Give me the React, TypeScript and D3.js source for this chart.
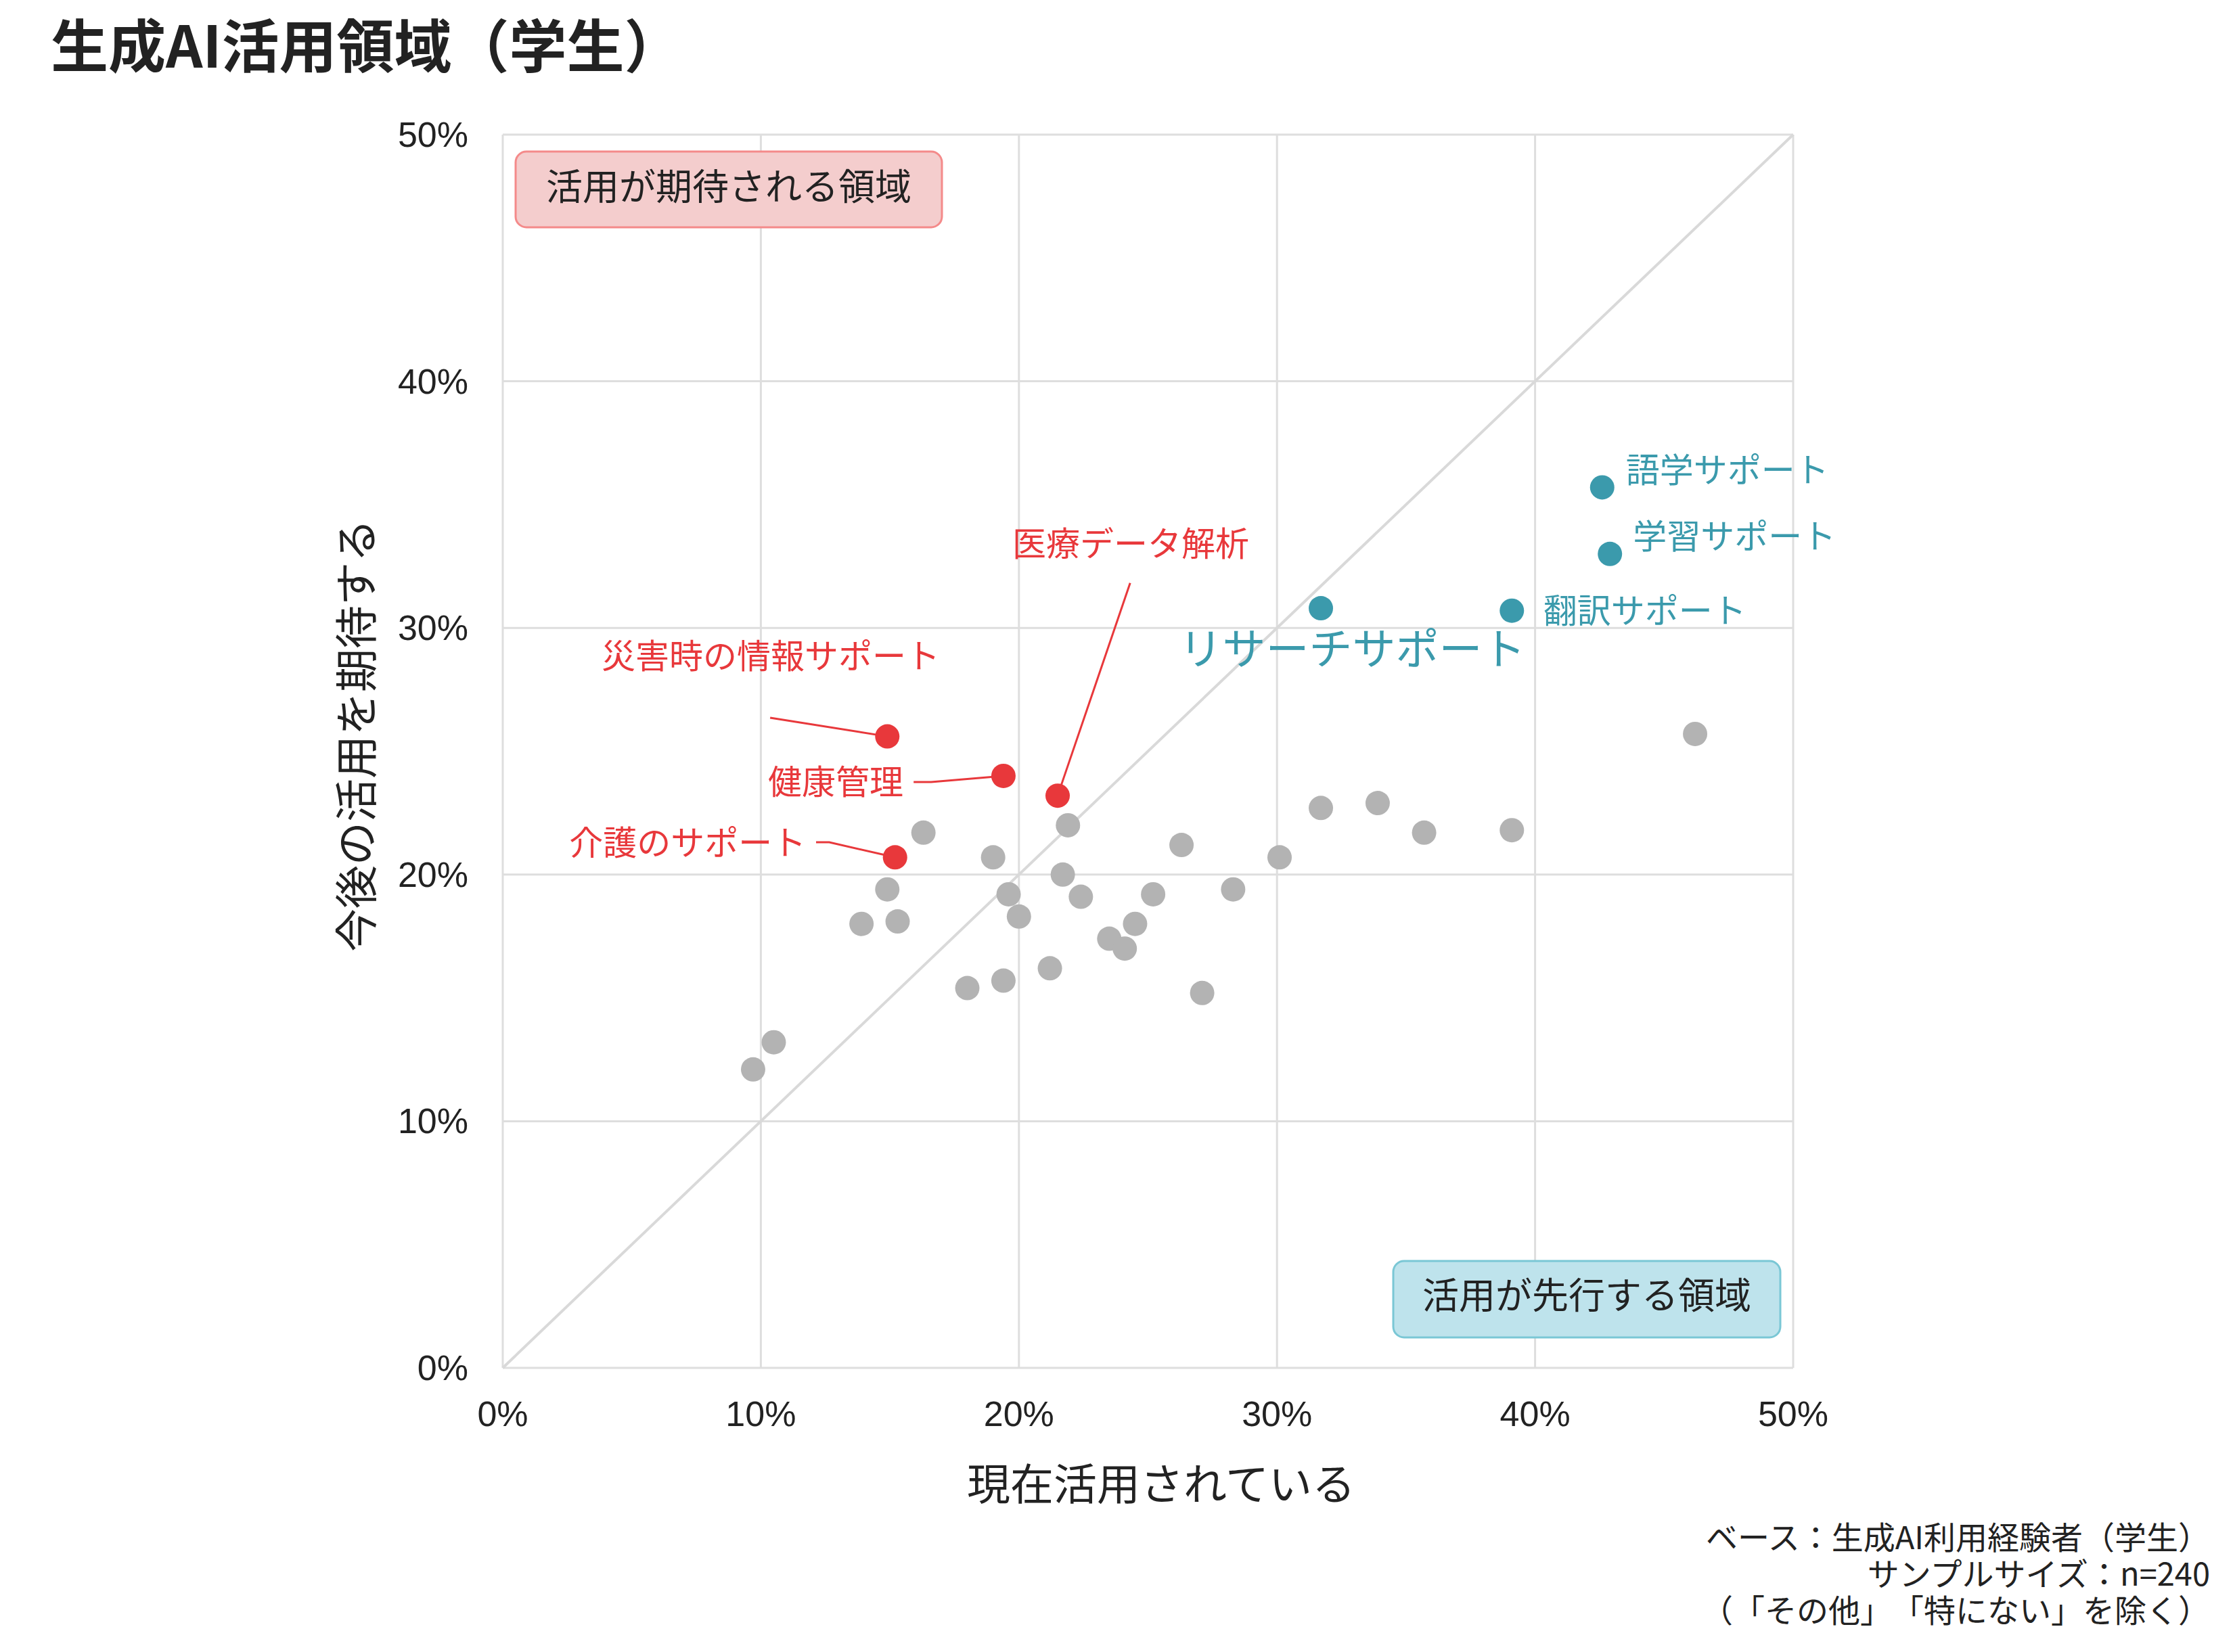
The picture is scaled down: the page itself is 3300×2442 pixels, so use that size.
import React, { useEffect } from "react";
import * as d3 from "d3";

// ---------- data ----------
const titleText = "生成AI活用領域（学生）";
const xAxisTitle = "現在活用されている";
const yAxisTitle = "今後の活用を期待する";
const tickValues = [0, 10, 20, 30, 40, 50];
const footnoteLines = [
  "ベース：生成AI利用経験者（学生）",
  "サンプルサイズ：n=240",
  "（「その他」「特にない」を除く）",
];
const quadrantUpperText = "活用が期待される領域";
const quadrantLowerText = "活用が先行する領域";

// other items (gray): current use %, expected future use %
const grayCurrent = [
  16.3, 19.0, 21.9, 21.7, 22.4, 14.9, 13.9, 15.3, 19.6, 20.0, 23.5, 24.1, 24.5, 18.0,
  19.4, 21.2, 10.5, 9.7, 26.3, 30.1, 31.7, 33.9, 35.7, 25.2, 28.3, 27.1, 46.2, 39.1,
];
const grayFuture = [
  21.7, 20.7, 22.0, 20.0, 19.1, 19.4, 18.0, 18.1, 19.2, 18.3, 17.4, 17.0, 18.0, 15.4,
  15.7, 16.2, 13.2, 12.1, 21.2, 20.7, 22.7, 22.9, 21.7, 19.2, 19.4, 15.2, 25.7, 21.8,
];

// highlighted: expected areas (red)
const redNames = ["災害時の情報サポート", "健康管理", "医療データ解析", "介護のサポート"];
const redCurrent = [14.9, 19.4, 21.5, 15.2];
const redFuture = [25.6, 24.0, 23.2, 20.7];

// highlighted: leading areas (teal)
const tealNames = ["語学サポート", "学習サポート", "翻訳サポート", "リサーチサポート"];
const tealCurrent = [42.6, 42.9, 39.1, 31.7];
const tealFuture = [35.7, 33.0, 30.7, 30.8];

// ---------- layout (annotation placement, in axis units) ----------
const redLabelLayout = [
  { lx: 10.38, ly: 28.96, anchor: "middle", sx: 10.36, sy: 26.36, kx: null, ky: null },
  { lx: 15.52, ly: 23.85, anchor: "end", sx: 15.92, sy: 23.75, kx: 16.6, ky: 23.75 },
  { lx: 24.33, ly: 33.52, anchor: "middle", sx: 24.31, sy: 31.82, kx: null, ky: null },
  { lx: 11.75, ly: 21.39, anchor: "end", sx: 12.14, sy: 21.31, kx: 12.65, ky: 21.31 },
];
const tealLabelLayout = [
  { lx: 43.52, ly: 36.51, anchor: "start", size: 50 },
  { lx: 43.79, ly: 33.82, anchor: "start", size: 50 },
  { lx: 40.32, ly: 30.8, anchor: "start", size: 50 },
  { lx: 32.92, ly: 29.3, anchor: "middle", size: 64 },
];

const W = 3300;
const H = 2442;
const PLOT = { left: 743, right: 2650, top: 199, bottom: 2022 };

const JP = "'Noto Sans CJK JP', 'Noto Sans', sans-serif";
const LAT = "'Liberation Sans', Arial, sans-serif";
const TXT_STYLE: any = { textSpacingTrim: "space-all" };

const COL = {
  gray: "#b3b3b3",
  red: "#e8383b",
  teal: "#3b9aac",
  grid: "#dedede",
  diag: "#d9d9d9",
  text: "#222222",
};

export default function App() {
  useEffect(() => {
    document.body.style.margin = "0";
  }, []);

  const x = d3.scaleLinear().domain([0, 50]).range([PLOT.left, PLOT.right]);
  const y = d3.scaleLinear().domain([0, 50]).range([PLOT.bottom, PLOT.top]);
  const R = 18;

  const diag = d3.line<number>()
    .x((d) => x(d))
    .y((d) => y(d))([0, 50]);

  return (
    <svg
      width={W}
      height={H}
      viewBox={`0 0 ${W} ${H}`}
      style={{ display: "block", position: "absolute", left: 0, top: 0, background: "#fff" }}
    >
      <rect x={0} y={0} width={W} height={H} fill="#ffffff" />
      {/* title */}
      <text x={75} y={62} style={TXT_STYLE} fontFamily={JP} fontWeight={700} fontSize={85} fill={COL.text} dominantBaseline="central">
        {titleText}
      </text>

      {/* grid */}
      {tickValues.map((t) => (
        <line key={"gx" + t} x1={x(t)} x2={x(t)} y1={y(0)} y2={y(50)} stroke={COL.grid} strokeWidth={3} />
      ))}
      {tickValues.map((t) => (
        <line key={"gy" + t} x1={x(0)} x2={x(50)} y1={y(t)} y2={y(t)} stroke={COL.grid} strokeWidth={3} />
      ))}

      {/* diagonal */}
      <path d={diag || ""} stroke={COL.diag} strokeWidth={4} fill="none" />

      {/* tick labels */}
      {tickValues.map((t) => (
        <text key={"tx" + t} x={x(t)} y={2090} textAnchor="middle" dominantBaseline="central" fontFamily={LAT} fontSize={52} fill={COL.text}>
          {t + "%"}
        </text>
      ))}
      {tickValues.map((t) => (
        <text key={"ty" + t} x={692} y={y(t)} textAnchor="end" dominantBaseline="central" fontFamily={LAT} fontSize={52} fill={COL.text}>
          {t + "%"}
        </text>
      ))}

      {/* axis titles */}
      <text x={1716} y={2189} textAnchor="middle" dominantBaseline="central" fontFamily={JP} fontSize={64} fill={COL.text}>
        {xAxisTitle}
      </text>
      <text
        transform={`translate(522,1087) rotate(-90)`}
        textAnchor="middle"
        dominantBaseline="central"
        fontFamily={JP}
        fontSize={64}
        fill={COL.text}
      >
        {yAxisTitle}
      </text>

      {/* quadrant boxes */}
      <rect x={762} y={224} width={630} height={112} rx={16} fill="#f4cdcd" stroke="#f48a8a" strokeWidth={3} />
      <text x={762 + 315} y={272} textAnchor="middle" dominantBaseline="central" fontFamily={JP} fontSize={54} fill={COL.text}>
        {quadrantUpperText}
      </text>
      <rect x={2059} y={1864} width={572} height={113} rx={16} fill="#bee3ec" stroke="#7ac7d5" strokeWidth={3} />
      <text x={2059 + 286} y={1911} textAnchor="middle" dominantBaseline="central" fontFamily={JP} fontSize={54} fill={COL.text}>
        {quadrantLowerText}
      </text>

      {/* gray points */}
      {grayCurrent.map((c, i) => (
        <circle key={"g" + i} cx={x(c)} cy={y(grayFuture[i])} r={R} fill={COL.gray} />
      ))}

      {/* red connectors */}
      {redNames.map((n, i) => {
        const L = redLabelLayout[i];
        const pts: [number, number][] = [[x(L.sx), y(L.sy)]];
        if (L.kx != null) pts.push([x(L.kx), y(L.ky as number)]);
        pts.push([x(redCurrent[i]), y(redFuture[i])]);
        return <path key={"rl" + i} d={d3.line()(pts) || ""} stroke={COL.red} strokeWidth={3} fill="none" />;
      })}

      {/* red points */}
      {redCurrent.map((c, i) => (
        <circle key={"r" + i} cx={x(c)} cy={y(redFuture[i])} r={R} fill={COL.red} />
      ))}
      {redNames.map((n, i) => {
        const L = redLabelLayout[i];
        return (
          <text key={"rt" + i} x={x(L.lx)} y={y(L.ly)} textAnchor={L.anchor as any} dominantBaseline="central" fontFamily={JP} fontSize={50} fill={COL.red}>
            {n}
          </text>
        );
      })}

      {/* teal points */}
      {tealCurrent.map((c, i) => (
        <circle key={"t" + i} cx={x(c)} cy={y(tealFuture[i])} r={R} fill={COL.teal} />
      ))}
      {tealNames.map((n, i) => {
        const L = tealLabelLayout[i];
        return (
          <text key={"tt" + i} x={x(L.lx)} y={y(L.ly)} textAnchor={L.anchor as any} dominantBaseline="central" fontFamily={JP} fontSize={L.size} fill={COL.teal}>
            {n}
          </text>
        );
      })}

      {/* footnote */}
      {footnoteLines.map((s, i) => (
        <text key={"f" + i} x={3266} y={2269 + i * 54} style={TXT_STYLE} textAnchor="end" dominantBaseline="central" fontFamily={JP} fontSize={47} fill={COL.text}>
          {s}
        </text>
      ))}
    </svg>
  );
}
